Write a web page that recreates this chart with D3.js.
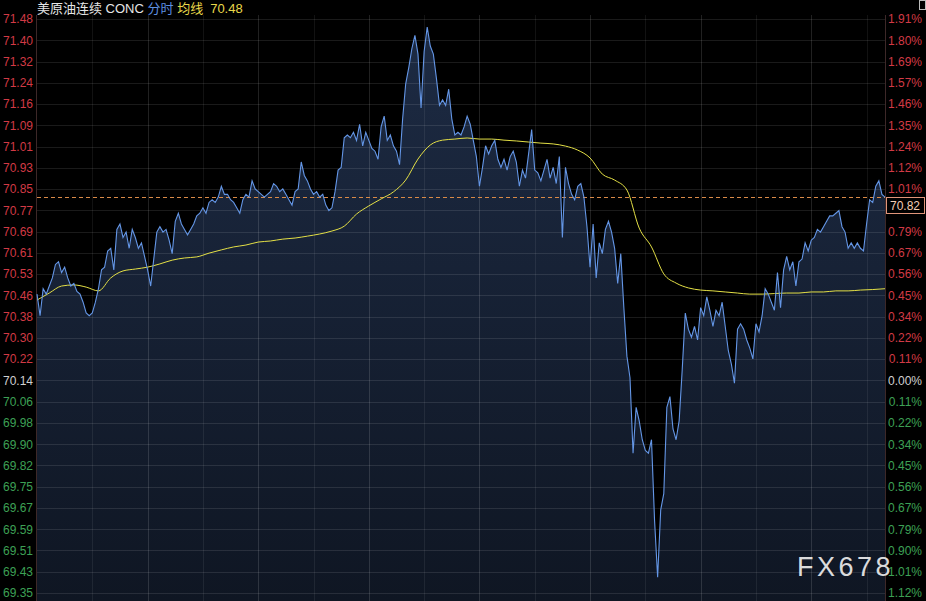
<!DOCTYPE html>
<html><head><meta charset="utf-8">
<script src="https://cdn.jsdelivr.net/npm/d3@7"></script>
<style>html,body{margin:0;padding:0;background:#000;overflow:hidden}svg{display:block}</style>
</head><body><svg id="c" width="926" height="601"></svg>
<script>
// ---- data ----
const basePrice = 70.14;
const tickStep = 0.07884;
const lastPrice = 70.82;
const avgLast = 70.48;
const totalMinutes = 1380;
const minuteStep = 5;
const avgStep = 20;
const leftTickLabels = ["71.48","71.40","71.32","71.24","71.16","71.09","71.01","70.93","70.85","70.77","70.69","70.61","70.53","70.46","70.38","70.30","70.22","70.14","70.06","69.98","69.90","69.82","69.75","69.67","69.59","69.51","69.43","69.35"];
const rightTickLabels = ["1.91%","1.80%","1.69%","1.57%","1.46%","1.35%","1.24%","1.12%","1.01%","0.90%","0.79%","0.67%","0.56%","0.45%","0.34%","0.22%","0.11%","0.00%","0.11%","0.22%","0.34%","0.45%","0.56%","0.67%","0.79%","0.90%","1.01%","1.12%"];
const gridMinutes = [90,180,270,360,450,540,630,720,810,900,990,1080,1170,1260,1350];
const prices = [
70.46,70.38,70.48,70.46,70.49,70.52,70.57,70.58,70.54,70.56,
70.52,70.49,70.50,70.47,70.46,70.43,70.39,70.38,70.39,70.43,
70.48,70.55,70.56,70.62,70.63,70.55,70.70,70.72,70.67,70.69,
70.63,70.70,70.67,70.63,70.65,70.60,70.55,70.49,70.59,70.69,
70.71,70.69,70.70,70.66,70.61,70.73,70.76,70.72,70.70,70.68,
70.70,70.72,70.75,70.76,70.78,70.76,70.80,70.81,70.80,70.82,
70.86,70.83,70.83,70.81,70.80,70.78,70.76,70.81,70.83,70.82,
70.88,70.85,70.84,70.83,70.82,70.83,70.84,70.87,70.86,70.84,
70.85,70.83,70.81,70.79,70.84,70.85,70.95,70.90,70.88,70.85,
70.83,70.84,70.82,70.83,70.79,70.77,70.78,70.84,70.92,70.93,
71.04,71.05,71.04,71.06,71.03,71.09,71.01,71.06,71.03,71.00,
70.99,70.96,71.08,71.12,71.03,71.05,71.01,70.99,70.94,71.11,
71.24,71.30,71.37,71.42,71.35,71.15,71.36,71.45,71.38,71.35,
71.26,71.16,71.18,71.16,71.22,71.11,71.05,71.06,71.05,71.08,
71.12,71.09,71.03,70.97,70.86,70.93,71.01,70.98,71.01,71.03,
70.96,70.93,70.96,70.92,70.97,70.99,70.95,70.86,70.92,70.89,
70.98,71.07,70.92,70.91,70.88,70.92,70.96,70.89,70.93,70.87,
70.97,70.67,70.93,70.87,70.83,70.81,70.86,70.87,70.82,70.71,
70.56,70.72,70.52,70.65,70.61,70.70,70.73,70.69,70.63,70.50,
70.61,70.41,70.23,70.15,69.87,70.04,69.99,69.92,69.88,69.87,
69.92,69.62,69.41,69.66,69.72,70.04,70.08,69.96,69.92,69.99,
70.18,70.39,70.33,70.30,70.34,70.29,70.41,70.38,70.45,70.40,
70.34,70.40,70.38,70.43,70.34,70.25,70.20,70.13,70.33,70.35,
70.33,70.29,70.26,70.22,70.35,70.32,70.38,70.48,70.46,70.43,
70.40,70.54,70.41,70.55,70.60,70.55,70.58,70.49,70.58,70.59,
70.65,70.62,70.66,70.67,70.70,70.69,70.71,70.73,70.75,70.75,
70.76,70.77,70.71,70.69,70.63,70.65,70.63,70.65,70.63,70.62,
70.72,70.81,70.80,70.86,70.88,70.83,70.82];
const avgPrices = [
70.438,70.464,70.490,70.494,70.486,70.472,70.520,70.546,70.553,70.560,
70.572,70.586,70.594,70.598,70.612,70.624,70.635,70.642,70.653,70.657,
70.664,70.668,70.675,70.683,70.694,70.712,70.757,70.787,70.813,70.839,
70.883,70.961,71.013,71.031,71.035,71.039,71.035,71.035,71.031,71.028,
71.024,71.020,71.017,71.009,70.994,70.965,70.905,70.883,70.846,70.705,
70.635,70.535,70.501,70.483,70.475,70.472,70.468,70.464,70.460,70.460,
70.462,70.464,70.464,70.468,70.468,70.472,70.472,70.475,70.477,70.480];

// ---- layout ----
const W = 926, H = 601;
const plotL = 37, plotR = 885, plotT = 19, plotB = 593;
const svg = d3.select("#c");
svg.append("rect").attr("width", W).attr("height", H).attr("fill", "#000");

const baseIndex = leftTickLabels.indexOf("70.14");
const nBelow = leftTickLabels.length - 1 - baseIndex;
const y = d3.scaleLinear()
  .domain([basePrice - nBelow * tickStep, basePrice + baseIndex * tickStep])
  .range([plotB, plotT]);
const x = d3.scaleLinear().domain([0, totalMinutes]).range([plotL, plotR]);
const tickVals = leftTickLabels.map((_, i) => basePrice + (baseIndex - i) * tickStep);

const defs = svg.append("defs");
const grad = defs.append("linearGradient").attr("id", "ag")
  .attr("gradientUnits", "userSpaceOnUse").attr("x1", 0).attr("x2", 0).attr("y1", plotT).attr("y2", H);
grad.append("stop").attr("offset", "0%").attr("stop-color", "#1d2b44");
grad.append("stop").attr("offset", "100%").attr("stop-color", "#0f1623");

// area
svg.append("path").datum(prices)
  .attr("fill", "url(#ag)")
  .attr("d", d3.area().x((d, i) => x(i * minuteStep)).y0(H).y1(d => y(d)));

// grid
const grid = svg.append("g");
grid.selectAll("line.h").data(tickVals).join("line")
  .attr("x1", plotL).attr("x2", plotR)
  .attr("y1", d => Math.round(y(d)) + 0.5).attr("y2", d => Math.round(y(d)) + 0.5)
  .attr("stroke", "rgba(255,255,255,0.10)");
grid.selectAll("line.v").data(gridMinutes).join("line")
  .attr("x1", d => Math.round(x(d)) + 0.5).attr("x2", d => Math.round(x(d)) + 0.5)
  .attr("y1", plotT - 4).attr("y2", H)
  .attr("stroke", d => d % 180 === 0 ? "rgba(255,255,255,0.13)" : "rgba(255,255,255,0.07)");

// axis separators
svg.append("line").attr("x1", plotL - 0.5).attr("x2", plotL - 0.5).attr("y1", plotT - 4).attr("y2", H).attr("stroke", "#3d2828");
svg.append("line").attr("x1", plotR + 0.5).attr("x2", plotR + 0.5).attr("y1", plotT - 4).attr("y2", H).attr("stroke", "#3d2828");

// last price dashed line
svg.append("line").attr("x1", plotL).attr("x2", plotR)
  .attr("y1", Math.round(y(lastPrice)) + 0.5).attr("y2", Math.round(y(lastPrice)) + 0.5)
  .attr("stroke", "#d98a48").attr("stroke-dasharray", "4,3");

// avg line
svg.append("path").datum(avgPrices)
  .attr("fill", "none").attr("stroke", "#e4e046").attr("stroke-width", 1)
  .attr("d", d3.line().curve(d3.curveMonotoneX).x((d, i) => x(i * avgStep)).y(d => y(d)));

// price line
svg.append("path").datum(prices)
  .attr("fill", "none").attr("stroke", "#6496e6").attr("stroke-width", 1.1)
  .attr("d", d3.line().x((d, i) => x(i * minuteStep)).y(d => y(d)));

// last price box geometry (it covers the right-axis label under it)
const by = Math.round(y(lastPrice)) + 0.5;
const boxH = 16;

// axes
const colorFor = i => i < baseIndex ? "#d23a45" : (i === baseIndex ? "#d0d0d0" : "#3da055");
const font = "'Liberation Sans', Arial, 'Noto Sans CJK SC', sans-serif";
const la = svg.append("g").attr("transform", `translate(33,0)`)
  .call(d3.axisLeft(y).tickValues(tickVals).tickSize(0).tickPadding(0)
    .tickFormat((d, i) => leftTickLabels[i]));
la.select(".domain").remove();
la.selectAll("text").attr("fill", (d, i) => colorFor(i)).style("font", `12px ${font}`);

const rightIdx = tickVals.map((d, i) => i).filter(i => {
  const ty = y(tickVals[i]);
  return !(ty + 6 > by && ty - 6 < by + boxH);
});
const ra = svg.append("g").attr("transform", `translate(922,0)`)
  .call(d3.axisLeft(y).tickValues(rightIdx.map(i => tickVals[i])).tickSize(0).tickPadding(0)
    .tickFormat((d, k) => rightTickLabels[rightIdx[k]]));
ra.select(".domain").remove();
ra.selectAll("text").attr("fill", (d, k) => colorFor(rightIdx[k])).style("font", `12px ${font}`);

// last price box
svg.append("rect").attr("x", plotR + 1.5).attr("y", by).attr("width", 38).attr("height", boxH)
  .attr("fill", "#000").attr("stroke", "#e0957a");
svg.append("text").attr("x", plotR + 5).attr("y", by + 12.5)
  .attr("fill", "#f2cdb5").style("font", `12px ${font}`).text(lastPrice.toFixed(2));

// header
const hdr = svg.append("text").attr("x", 37).attr("y", 13).style("font", `13px ${font}`);
hdr.append("tspan").attr("fill", "#e6e6e6").text("美原油连续 CONC ");
hdr.append("tspan").attr("fill", "#5d8fe0").text("分时 ");
hdr.append("tspan").attr("fill", "#e8d84a").text("均线");
hdr.append("tspan").attr("fill", "#e8d84a").attr("dx", 7).text(avgLast.toFixed(2));

// top-right icon
svg.append("rect").attr("x", 919.5).attr("y", 0.5).attr("width", 6).attr("height", 9)
  .attr("fill", "none").attr("stroke", "#bbbbbb");

// watermark
svg.append("text").attr("x", 797).attr("y", 576).attr("fill", "rgba(240,240,240,0.92)")
  .style("font", `27px ${font}`).style("letter-spacing", "3.5px").text("FX678");
</script></body></html>
